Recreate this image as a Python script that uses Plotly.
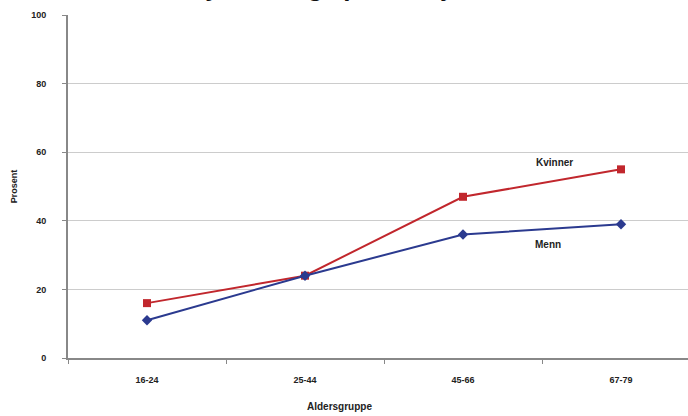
import plotly.graph_objects as go

# Age groups and share (percent) per group
aldersgrupper = ["16-24", "25-44", "45-66", "67-79"]
kvinner = [16, 24, 47, 55]
menn = [11, 24, 36, 39]
y_ticks = [0, 20, 40, 60, 80, 100]

tittel = "Andel som kjenner seg ofte helt nytteløs, etter alder"

RED = "#c1272d"
BLUE = "#2b3a8f"
TXT = "#222222"
FONT = "Liberation Sans"

fig = go.Figure()
fig.add_trace(go.Scatter(
    x=aldersgrupper, y=kvinner, name="Kvinner", mode="lines+markers",
    line=dict(color=RED, width=2),
    marker=dict(symbol="square", size=8, color=RED),
))
fig.add_trace(go.Scatter(
    x=aldersgrupper, y=menn, name="Menn", mode="lines+markers",
    line=dict(color=BLUE, width=2),
    marker=dict(symbol="diamond", size=8, color=BLUE),
))

# Series labels next to the lines
fig.add_annotation(x=2.58, y=kvinner[3], text="<b>Kvinner</b>", showarrow=False,
                   xref="x", yref="y", yshift=7,
                   font=dict(family=FONT, size=10, color=TXT))
fig.add_annotation(x=2.54, y=menn[2], text="<b>Menn</b>", showarrow=False,
                   xref="x", yref="y", yshift=-10,
                   font=dict(family=FONT, size=10, color=TXT))

# Chart title, sitting above the plotting area
fig.add_annotation(x=0.0, y=1.034, xref="paper", yref="paper",
                   xanchor="left", yanchor="bottom", showarrow=False,
                   text="<b><i>" + tittel + "</i></b>",
                   font=dict(family="Liberation Serif", size=27, color="#111111"))

# X axis title
fig.add_annotation(x=0.438, y=0, xref="paper", yref="paper",
                   xanchor="center", yanchor="middle", yshift=-48, showarrow=False,
                   text="<b>Aldersgruppe</b>",
                   font=dict(family=FONT, size=10, color=TXT))

fig.update_layout(
    width=688, height=416,
    margin=dict(l=68, r=0, t=15, b=58),
    paper_bgcolor="white", plot_bgcolor="white",
    showlegend=False,
    font=dict(family=FONT, color=TXT),
)
fig.update_xaxes(
    type="category", range=[-0.5, 3.424],
    tickson="boundaries", ticks="outside", ticklen=4, tickcolor="#888888",
    showgrid=False, showline=True, linecolor="#888888", linewidth=2,
    ticklabelstandoff=12,
    tickfont=dict(family=FONT, size=9, color=TXT, weight="bold"),
)
fig.update_yaxes(
    range=[0, 100], tickvals=y_ticks,
    ticks="outside", ticklen=4, tickcolor="#888888",
    showgrid=True, gridcolor="#cccccc", gridwidth=1,
    showline=True, linecolor="#888888", linewidth=2, zeroline=False,
    ticklabelstandoff=14,
    tickfont=dict(family=FONT, size=9, color=TXT, weight="bold"),
    title=dict(text="<b>Prosent</b>", font=dict(family=FONT, size=9, color=TXT), standoff=12),
)

fig.write_html("out.html")
